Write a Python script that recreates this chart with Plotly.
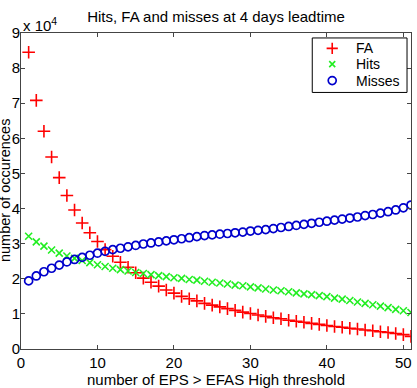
import plotly.graph_objects as go

x_thresh = list(range(1, 52))

fa = [84500, 70800, 62000, 54700, 48800, 43700, 39600, 35900, 33100, 30600,
      28300, 26400, 24700, 23300, 21700, 20200, 19000, 17900, 16800, 15900,
      15000, 14300, 13700, 13000, 12500, 12000, 11500, 11000, 10500, 10100,
      9700, 9300, 8900, 8600, 8200, 7900, 7600, 7300, 7000, 6700,
      6400, 6200, 5900, 5700, 5400, 5200, 4900, 4700, 4400, 4100, 3600]

hits = [32100, 30500, 29300, 28200, 27300, 26500, 25800, 25200, 24600, 24000,
        23500, 23000, 22600, 22200, 21800, 21500, 21200, 20900, 20600, 20300,
        20100, 19800, 19600, 19300, 19000, 18800, 18500, 18200, 18000, 17700,
        17400, 17100, 16800, 16600, 16300, 16000, 15700, 15500, 15200, 14900,
        14500, 14200, 13800, 13400, 13000, 12600, 12200, 11800, 11300, 10900, 10400]

misses = [19400, 20800, 22000, 23000, 23900, 24800, 25500, 26100, 26700, 27300,
          27800, 28300, 28700, 29100, 29500, 29900, 30200, 30500, 30800, 31100,
          31400, 31700, 32000, 32300, 32500, 32700, 32900, 33100, 33300, 33600,
          33800, 34000, 34300, 34600, 34900, 35200, 35500, 35800, 36100, 36400,
          36700, 37000, 37300, 37600, 38000, 38300, 38700, 39100, 39600, 40200, 41000]

series_names = ["FA", "Hits", "Misses"]
y_tickvals = [0, 10000, 20000, 30000, 40000, 50000, 60000, 70000, 80000, 90000]
y_ticktext = ["0", "1", "2", "3", "4", "5", "6", "7", "8", "9"]
x_tickvals = [0, 10, 20, 30, 40, 50]

FONT = "Liberation Sans, Arial, Helvetica, sans-serif"
styles = [
    dict(symbol="cross-thin", size=9, line=dict(color="#ff0000", width=1.6), color="#ff0000"),
    dict(symbol="x-thin", size=7, line=dict(color="#22ee22", width=1.6), color="#22ee22"),
    dict(symbol="circle-open", size=8, line=dict(color="#0000cc", width=1.7), color="#0000cc"),
]
leg_styles = [
    dict(symbol="cross-thin", size=8, line=dict(color="#ff0000", width=1.6), color="#ff0000"),
    dict(symbol="x-thin", size=6, line=dict(color="#22ee22", width=1.6), color="#22ee22"),
    dict(symbol="circle-open", size=8, line=dict(color="#0000cc", width=1.7), color="#0000cc"),
]

fig = go.Figure()
for name, vals, st in zip(series_names, [fa, hits, misses], styles):
    fig.add_trace(go.Scatter(x=x_thresh, y=vals, mode="markers", name=name,
                             marker=st, showlegend=False))

# Custom compact legend box (MATLAB style) on a hidden overlay axis in paper fractions
L_LEFT, L_RIGHT, L_TOP, L_BOTTOM = 0.7468, 0.9898, 0.9843, 0.8119
leg_marker_x = 0.798
leg_text_x = 0.854
leg_rows = [0.9514, 0.9013, 0.8495]
for name, st, ry in zip(series_names, leg_styles, leg_rows):
    fig.add_trace(go.Scatter(x=[leg_marker_x], y=[ry], mode="markers", marker=st,
                             xaxis="x2", yaxis="y2", showlegend=False, hoverinfo="skip"))
    fig.add_annotation(text=name, xref="paper", yref="paper", x=leg_text_x, y=ry,
                       xanchor="left", yanchor="middle", showarrow=False,
                       font=dict(family=FONT, size=14))
fig.add_shape(type="rect", xref="paper", yref="paper", x0=L_LEFT, x1=L_RIGHT,
              y0=L_BOTTOM, y1=L_TOP, line=dict(color="#000000", width=1),
              fillcolor="rgba(0,0,0,0)", layer="above")

axis_common = dict(
    showline=True, linecolor="#444444", linewidth=1, mirror="ticks",
    ticks="inside", ticklen=4, tickcolor="#444444", showgrid=False, zeroline=False,
    tickfont=dict(family=FONT, size=15, color="#000000"),
)

fig.update_layout(
    width=417, height=388,
    margin=dict(l=21, r=5, t=33, b=36),
    paper_bgcolor="white", plot_bgcolor="white",
    font=dict(family=FONT, size=15, color="#000000"),
    showlegend=False,
    title=dict(text="Hits, FA and misses at 4 days leadtime", x=0.518, xanchor="center",
               y=1 - 17 / 388, yanchor="middle", font=dict(family=FONT, size=15)),
    xaxis=dict(range=[0, 51], tickvals=x_tickvals, **axis_common,
               title=dict(text="number of EPS > EFAS High threshold", standoff=1,
                          font=dict(family=FONT, size=15))),
    yaxis=dict(range=[0, 90000], tickvals=y_tickvals, ticktext=y_ticktext,
               ticklabelstandoff=-3, **axis_common),
    xaxis2=dict(overlaying="x", range=[0, 1], visible=False, domain=[0, 1]),
    yaxis2=dict(overlaying="y", range=[0, 1], visible=False, domain=[0, 1]),
)

fig.add_annotation(text="number of occurences", textangle=-90, xref="paper", yref="paper",
                   x=(5 - 21) / 391, y=0.5, xanchor="center", yanchor="middle",
                   showarrow=False, font=dict(family=FONT, size=14.5))
fig.add_annotation(text="x 10<sup>4</sup>", xref="paper", yref="paper",
                   x=0.0, y=1.0, xanchor="left", yanchor="bottom", yshift=-3,
                   showarrow=False, font=dict(family=FONT, size=15))

fig.write_html("out.html")
